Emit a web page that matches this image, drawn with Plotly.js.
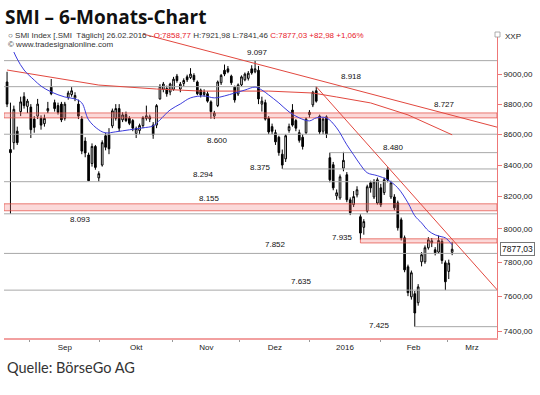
<!DOCTYPE html>
<html><head><meta charset="utf-8">
<script src="https://cdn.plot.ly/plotly-3.0.1.min.js"></script>
<style>html,body{margin:0;padding:0;background:#fff;}#chart{width:540px;height:395px;}</style>
</head><body><div id="chart"></div>
<script>
// ---------- DATA ----------
const dates = [
"2015-08-21","2015-08-24","2015-08-25","2015-08-26","2015-08-27","2015-08-28","2015-08-31",
"2015-09-01","2015-09-02","2015-09-03","2015-09-04","2015-09-07","2015-09-08","2015-09-09","2015-09-10","2015-09-11",
"2015-09-14","2015-09-15","2015-09-16","2015-09-17","2015-09-18","2015-09-21","2015-09-22","2015-09-23","2015-09-24","2015-09-25",
"2015-09-28","2015-09-29","2015-09-30",
"2015-10-01","2015-10-02","2015-10-05","2015-10-06","2015-10-07","2015-10-08","2015-10-09","2015-10-12","2015-10-13","2015-10-14",
"2015-10-15","2015-10-16","2015-10-19","2015-10-20","2015-10-21","2015-10-22","2015-10-23","2015-10-26","2015-10-27","2015-10-28",
"2015-10-29","2015-10-30",
"2015-11-02","2015-11-03","2015-11-04","2015-11-05","2015-11-06","2015-11-09","2015-11-10","2015-11-11","2015-11-12","2015-11-13",
"2015-11-16","2015-11-17","2015-11-18","2015-11-19","2015-11-20","2015-11-23","2015-11-24","2015-11-25","2015-11-26","2015-11-27","2015-11-30",
"2015-12-01","2015-12-02","2015-12-03","2015-12-04","2015-12-07","2015-12-08","2015-12-09","2015-12-10","2015-12-11",
"2015-12-14","2015-12-15","2015-12-16","2015-12-17","2015-12-18","2015-12-21","2015-12-22","2015-12-23","2015-12-28","2015-12-29","2015-12-30",
"2016-01-04","2016-01-05","2016-01-06","2016-01-07","2016-01-08","2016-01-11","2016-01-12","2016-01-13","2016-01-14","2016-01-15",
"2016-01-18","2016-01-19","2016-01-20","2016-01-21","2016-01-22","2016-01-25","2016-01-26","2016-01-27","2016-01-28","2016-01-29",
"2016-02-01","2016-02-02","2016-02-03","2016-02-04","2016-02-05","2016-02-08","2016-02-09","2016-02-10","2016-02-11","2016-02-12",
"2016-02-15","2016-02-16","2016-02-17","2016-02-18","2016-02-19","2016-02-22","2016-02-23","2016-02-24","2016-02-25","2016-02-26"];

const open = [
8950,8500,8545,8620,8750,8850,8785,8780,8700,8720,
8705,8670,8755,8915,8810,8790,8800,8705,8845,8865,
8840,8800,8700,8555,8465,8410,8520,8318,8400,8590,
8600,8655,8705,8770,8695,8730,8705,8690,8605,8625,
8657,8705,8700,8660,8660,8835,8900,8905,8882,8900,
8990,8902,8940,8985,8980,8995,8950,8895,8865,8870,
8815,8720,8790,8945,9030,9040,8990,8915,8868,8930,
8965,8975,9040,9020,9030,8800,8810,8705,8650,8610,
8580,8470,8440,8625,8760,8690,8610,8580,8610,8730,
8795,8890,8720,8620,8715,8447,8402,8205,8192,8380,
8338,8180,8150,8211,8075,8010,8110,8287,8198,8160,
8255,8225,8370,8198,8198,8161,8056,7946,7772,7596,
7614,7562,7802,7802,7886,7916,7874,7860,7925,7796,7745,7858.77];

const high = [
9020,8810,8790,8650,8850,8880,8835,8800,8720,8835,
8725,8730,8815,8970,8830,8810,8815,8815,8890,8915,
8880,8830,8720,8580,8480,8540,8530,8360,8560,8610,
8640,8770,8800,8800,8745,8750,8720,8700,8650,8670,
8720,8790,8730,8680,8800,8935,8950,8925,8945,8985,
9005,8950,8975,9000,9045,9010,8960,8905,8900,8885,
8825,8755,8960,9005,9070,9060,9000,8925,8940,8995,
9015,9025,9065,9097,9060,8850,8830,8720,8670,8630,
8590,8500,8600,8670,8800,8700,8630,8600,8710,8760,
8890,8918,8730,8710,8725,8480,8420,8245,8340,8485,
8355,8195,8235,8265,8090,8060,8275,8300,8310,8320,
8280,8320,8385,8300,8215,8175,8070,7960,7785,7750,
7630,7670,7860,7900,7950,7945,7890,7960,7940,7810,7815,7921.98];

const low = [
8780,8093,8500,8530,8720,8770,8740,8575,8610,8700,
8630,8650,8740,8860,8750,8730,8680,8690,8830,8850,
8820,8700,8470,8450,8298,8390,8370,8294,8390,8495,
8470,8640,8690,8620,8680,8680,8660,8620,8575,8600,
8640,8690,8680,8570,8640,8830,8880,8850,8860,8890,
8945,8880,8920,8950,8970,8950,8860,8845,8850,8810,
8703,8700,8780,8930,8990,9010,8930,8810,8855,8920,
8955,8960,9000,9010,8800,8750,8690,8600,8600,8530,
8460,8375,8420,8610,8650,8620,8545,8500,8600,8710,
8780,8810,8600,8600,8575,8290,8240,8180,8180,8360,
8165,8085,8135,8195,7935,7965,8100,8225,8185,8150,
8135,8210,8290,8185,8115,7990,7930,7740,7600,7580,
7425,7545,7775,7790,7875,7890,7840,7850,7790,7635,7700,7841.46];

const close = [
8800,8480,8765,8545,8815,8790,8820,8630,8645,8800,
8660,8705,8770,8870,8770,8745,8695,8800,8875,8890,
8858,8720,8490,8478,8300,8520,8385,8345,8545,8515,
8505,8755,8770,8640,8728,8690,8672,8640,8638,8657,
8710,8722,8715,8596,8790,8920,8936,8870,8936,8969,
8960,8935,8960,8965,9004,8965,8870,8862,8880,8820,
8750,8740,8950,8995,9004,9020,8945,8828,8930,8985,
9004,9010,9012,9040,8835,8820,8700,8615,8620,8550,
8480,8400,8590,8650,8660,8640,8560,8520,8700,8745,
8880,8820,8615,8700,8600,8306,8255,8224,8325,8430,
8180,8100,8200,8243,7975,8045,8262,8255,8293,8306,
8149,8306,8306,8287,8130,8007,7946,7754,7620,7737,
7503,7654,7844,7886,7934,7928,7856,7930,7810,7684,7794.05,7877.03];

// short moving average (blue), read at selected sessions
const maShortAt  = [2,3,5,8,10,13,17,20,22,24,27,29,32,36,40,43,45,48,51,54,58,61,64,67,70,73,75,77,80,83,86,89,91,94,97,100,102,104,106,109,112,115,118,120,122,124,126,128,129,131];
const maShortVal = [9157,9108,9032,8963,8922,8882,8848,8835,8808,8695,8629,8609,8616,8629,8642,8655,8695,8761,8801,8842,8855,8842,8855,8875,8895,8915,8895,8862,8808,8748,8708,8688,8708,8708,8642,8531,8466,8402,8351,8332,8306,8255,8161,8081,8037,7989,7964,7952,7946,7904];
// long moving average (red)
const maLongAt  = [0,13,27,44,57,77,90,97,107,118,131];
const maLongVal = [9032,8980,8929,8902,8888,8888,8875,8848,8808,8728,8596];

// horizontal support / resistance levels
const levelValues = [9097,8918,8727,8600,8480,8375,8294,8155,8093,7935,7852,7635,7425];
const levelFrom   = [null,null,null,null,"2016-01-07","2015-12-14",null,null,null,"2016-01-20",null,null,"2016-02-11"];
// highlighted zones (red bands)
const bandLow  = [8708,8112,7915];
const bandHigh = [8741,8155,7940];
const bandFrom = [null,null,"2016-01-20"];

// trend lines: [session index, value] pairs
const trendUpperAt  = [40,145];
const trendUpperVal = [9284,8642];
const trendSteepAt  = [91,145];
const trendSteepVal = [8918,7620];

const monthNames = ["Sep","Okt","Nov","Dez","2016","Feb","Mrz"];
const yTickVals = [7400,7600,7800,8000,8200,8400,8600,8800,9000];

// ---------- LAYOUT HELPERS ----------
const W=540,H=395,ML=4,MR=43,MT=33,MB=57;
const PW=W-ML-MR, PH=H-MT-MB;
const px2x = px => (px-ML)/PW;
const py2y = py => (H-MB-py)/PH;
const xMin=-0.9, xMax=144.2;
const idx = dates.map((d,i)=>i);
const iOf = d => d===null ? xMin : dates.indexOf(d);
const fmt2 = v => v.toFixed(2).replace('.',',');
const fmtLvl = v => Math.floor(v/1000)+"."+String(v%1000).padStart(3,'0');

// month starts in session index
const starts=[];
for(let i=1;i<dates.length;i++) if(dates[i].slice(0,7)!==dates[i-1].slice(0,7)) starts.push(i);
(function(){
  const last=new Date(dates[dates.length-1]+"T00:00:00Z"); const m=last.getUTCMonth();
  let d=new Date(last), n=dates.length-1;
  for(let k=0;k<40;k++){ d.setUTCDate(d.getUTCDate()+1); const wd=d.getUTCDay(); if(wd===0||wd===6) continue; n++; if(d.getUTCMonth()!==m){starts.push(n);break;} }
})();
// the source draws its month marks slightly before the first session (layout nudge, in sessions)
const tickNudge = [-0.3,-1.7,-2.2,-3.5,-2.9,-2.2,-3.5];
const tickPos = starts.map((s,k)=>s+tickNudge[k]);
const mids = tickPos.map((s,k)=> k<tickPos.length-1 ? (s+tickPos[k+1])/2 : (s+xMax)/2);

// ---------- TRACES ----------
const traces=[];
const gray='#a8a8a8', red='#e2483f';
const bandCenters=[8727,8155,7935];
levelValues.forEach((v,k)=>{
  if(bandCenters.includes(v)) return;
  traces.push({type:'scatter',mode:'lines',x:[iOf(levelFrom[k]),xMax],y:[v,v],
    line:{color:gray,width:1},hoverinfo:'skip',showlegend:false});
});
bandLow.forEach((lo,k)=>{
  const x0=iOf(bandFrom[k]), hi=bandHigh[k];
  traces.push({type:'scatter',mode:'lines',x:[x0,xMax,xMax,x0,x0],y:[lo,lo,hi,hi,lo],
    fill:'toself',fillcolor:'rgba(240,120,120,0.28)',line:{color:'rgba(226,72,63,0.7)',width:1},
    hoverinfo:'skip',showlegend:false});
});
traces.push({type:'scatter',mode:'lines',x:maLongAt,y:maLongVal,line:{color:red,width:1},hoverinfo:'skip',showlegend:false});
traces.push({type:'scatter',mode:'lines',x:trendUpperAt,y:trendUpperVal,line:{color:red,width:1},hoverinfo:'skip',showlegend:false});
traces.push({type:'scatter',mode:'lines',x:trendSteepAt,y:trendSteepVal,line:{color:red,width:1},hoverinfo:'skip',showlegend:false});
traces.push({type:'scatter',mode:'lines',x:maShortAt,y:maShortVal,line:{color:'#3c3cdc',width:1,shape:'spline'},hoverinfo:'skip',showlegend:false});
traces.push({type:'candlestick',x:idx,open:open,high:high,low:low,close:close,
  increasing:{line:{color:'#000',width:1},fillcolor:'#ffffff'},
  decreasing:{line:{color:'#000',width:1},fillcolor:'#000000'},
  whiskerwidth:0,hoverinfo:'skip',showlegend:false});

// ---------- ANNOTATIONS ----------
const labelPlace = [[73.6,8.6],[101.5,9.7],[128.6,11],[61.8,-5.8],[113.6,5.6],[74.7,1.5],[57.7,7],[59.7,5],[21.5,-6],[98.6,2],[79.1,9],[86.8,9],[109.5,1.5]];
const ann=[];
levelValues.forEach((v,k)=>{
  ann.push({x:labelPlace[k][0],y:Math.log10(v),xref:'x',yref:'y',yshift:labelPlace[k][1],
    text:fmtLvl(v),showarrow:false,font:{family:'Arial, Liberation Sans',size:8,color:'#111'}});
});
const n=close.length;
const chg=close[n-1]-close[n-2], pct=chg/close[n-2]*100;
const dParts=dates[n-1].split('-');
const sub = '○ SMI Index [.SMI  Täglich] '+dParts[2]+'.'+dParts[1]+'.'+dParts[0]+' - '+
  '<span style="color:#e8202a">O:'+fmt2(open[n-1])+'</span> H:'+fmt2(high[n-1])+' L:'+fmt2(low[n-1])+
  ' <span style="color:#e8202a">C:'+fmt2(close[n-1])+' +'+fmt2(chg)+' +'+fmt2(pct)+'%</span>';
ann.push({xref:'paper',yref:'paper',x:px2x(3),y:py2y(17),xanchor:'left',yanchor:'middle',showarrow:false,
  text:'<b>SMI – 6-Monats-Chart</b>',font:{family:'Open Sans',size:19,color:'#111'}});
ann.push({xref:'paper',yref:'paper',x:px2x(6),y:py2y(35),xanchor:'left',yanchor:'middle',showarrow:false,
  text:sub,font:{family:'Arial, Liberation Sans',size:8,color:'#333'}});
ann.push({xref:'paper',yref:'paper',x:px2x(6),y:py2y(44),xanchor:'left',yanchor:'middle',showarrow:false,
  text:'© www.tradesignalonline.com',font:{family:'Arial, Liberation Sans',size:8,color:'#333'}});
ann.push({xref:'paper',yref:'paper',x:px2x(503),y:py2y(37),xanchor:'left',yanchor:'middle',showarrow:false,
  text:'XXP',font:{family:'Arial, Liberation Sans',size:8,color:'#222'}});
ann.push({xref:'paper',yref:'y',x:px2x(500),y:Math.log10(close[n-1]),xanchor:'left',yanchor:'middle',showarrow:false,
  text:fmt2(close[n-1]),font:{family:'Arial, Liberation Sans',size:8.5,color:'#111'},
  bordercolor:'#777',borderwidth:1,borderpad:1,bgcolor:'#fff'});
ann.push({xref:'paper',yref:'paper',x:px2x(5),y:py2y(367),xanchor:'left',yanchor:'middle',showarrow:false,
  text:'Quelle: BörseGo AG',font:{family:'Lato',size:14.5,color:'#333'}});

const shapes=[{type:'rect',xref:'paper',yref:'paper',x0:px2x(495),x1:px2x(500),y0:py2y(37),y1:py2y(32),
  line:{color:'#999',width:0.8},fillcolor:'#fff'}];

const layout={
  width:W,height:H,margin:{l:ML,r:MR,t:MT,b:MB},
  paper_bgcolor:'#fff',plot_bgcolor:'#fff',showlegend:false,
  xaxis:{range:[xMin,xMax],showgrid:false,zeroline:false,showline:true,linecolor:'#f2a0a0',linewidth:2,
    tickmode:'array',tickvals:mids,ticktext:monthNames,ticks:'',
    tickfont:{family:'Arial, Liberation Sans',size:8,color:'#222'},
    minor:{tickmode:'array',tickvals:tickPos,ticks:'outside',ticklen:2,tickcolor:'#999'},
    rangeslider:{visible:false},fixedrange:true},
  yaxis:{type:'log',side:'right',range:[Math.log10(7361),Math.log10(9291)],showgrid:false,zeroline:false,
    showline:true,linecolor:'#e77',linewidth:1,ticks:'outside',ticklen:4,tickcolor:'#e77',
    tickmode:'array',tickvals:yTickVals,ticktext:yTickVals.map(v=>v+',00'),
    tickfont:{family:'Arial, Liberation Sans',size:8,color:'#222'},fixedrange:true},
  annotations:ann,shapes:shapes
};
Plotly.newPlot('chart',traces,layout,{displayModeBar:false,staticPlot:true});
</script>
</body></html>
